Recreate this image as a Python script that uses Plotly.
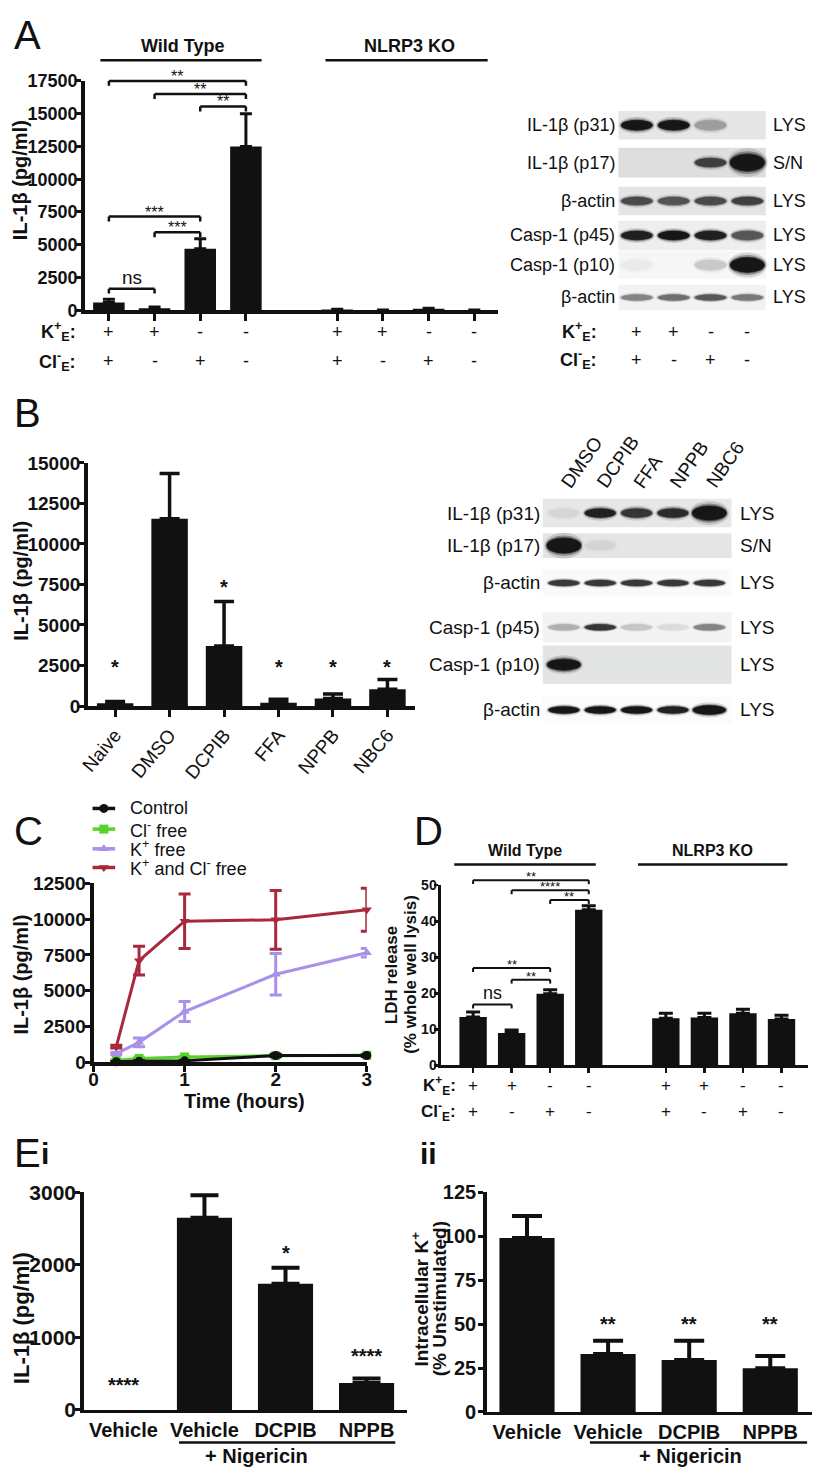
import plotly.graph_objects as go

W, H = 819, 1481
FONT = "Liberation Sans, Arial, Helvetica, sans-serif"
INK = "#111111"

# ======================= DATA =======================
# ---- Panel A : IL-1β release (pg/ml) ----
A_GROUPS = ["Wild Type", "NLRP3 KO"]
A_K_SIGN = ["+", "+", "-", "-"]
A_CL_SIGN = ["+", "-", "+", "-"]
A_WT = [600, 150, 4700, 12500]
A_WT_ERR = [250, 100, 750, 2500]
A_KO = [60, 20, 110, 20]
A_KO_ERR = [20, 10, 40, 10]
A_YTICKS = [0, 2500, 5000, 7500, 10000, 12500, 15000, 17500]
A_SIG_PAIRS = [(0, 3), (1, 3), (2, 3), (0, 2), (1, 2), (0, 1)]
A_SIG_LEVEL = [17500, 16500, 15550, 7150, 5950, 1650]
A_SIG_TEXT = ["**", "**", "**", "***", "***", "ns"]

# ---- Panel A : western blot ----
A_BLOT_ROWS = ["IL-1β (p31)", "IL-1β (p17)", "β-actin", "Casp-1 (p45)", "Casp-1 (p10)", "β-actin"]
A_BLOT_FRACTION = ["LYS", "S/N", "LYS", "LYS", "LYS", "LYS"]
A_BLOT_SIGNAL = [
    [1.0, 1.0, 0.35, 0.0],
    [0.0, 0.0, 0.8, 1.9],
    [0.75, 0.7, 0.75, 0.8],
    [0.95, 1.0, 0.95, 0.7],
    [0.05, 0.0, 0.2, 1.5],
    [0.5, 0.6, 0.7, 0.55],
]

# ---- Panel B : inhibitors ----
B_CATS = ["Naive", "DMSO", "DCPIB", "FFA", "NPPB", "NBC6"]
B_VALS = [180, 11550, 3700, 200, 470, 1030]
B_ERR = [100, 2800, 2750, 220, 280, 610]
B_SIG = ["*", "", "*", "*", "*", "*"]
B_SIG_LEVEL = [2400, 0, 7350, 2400, 2400, 2400]
B_YTICKS = [0, 2500, 5000, 7500, 10000, 12500, 15000]

B_BLOT_LANES = ["DMSO", "DCPIB", "FFA", "NPPB", "NBC6"]
B_BLOT_ROWS = ["IL-1β (p31)", "IL-1β (p17)", "β-actin", "Casp-1 (p45)", "Casp-1 (p10)", "β-actin"]
B_BLOT_FRACTION = ["LYS", "S/N", "LYS", "LYS", "LYS", "LYS"]
B_BLOT_SIGNAL = [
    [0.08, 0.95, 0.85, 0.9, 1.6],
    [1.7, 0.08, 0.0, 0.0, 0.0],
    [0.85, 0.85, 0.85, 0.85, 0.85],
    [0.3, 0.85, 0.2, 0.1, 0.5],
    [1.4, 0.0, 0.0, 0.0, 0.0],
    [1.0, 1.0, 1.0, 0.95, 1.3],
]

# ---- Panel C : time course ----
C_TIME = [0.25, 0.5, 1, 2, 3]
C_NAMES = ["Control", "Cl<sup>-</sup> free", "K<sup>+</sup> free", "K<sup>+</sup> and Cl<sup>-</sup> free"]
C_CONTROL = [50, 90, 110, 480, 480]
C_CONTROL_ERR = [20, 30, 30, 90, 60]
C_CLFREE = [150, 280, 380, 470, 500]
C_CLFREE_ERR = [20, 40, 40, 40, 40]
C_KFREE = [620, 1400, 3550, 6150, 7650]
C_KFREE_ERR = [80, 300, 700, 1450, 300]
C_KCLFREE = [1100, 7100, 9850, 9950, 10650]
C_KCLFREE_ERR = [100, 1000, 1900, 2050, 1500]
C_XTICKS = [0, 1, 2, 3]
C_YTICKS = [0, 2500, 5000, 7500, 10000, 12500]

# ---- Panel D : LDH release ----
D_WT = [13.4, 9.0, 19.9, 43.2]
D_WT_ERR = [1.4, 0.8, 1.1, 1.1]
D_KO = [13.1, 13.3, 14.5, 12.9]
D_KO_ERR = [1.4, 1.2, 1.1, 1.0]
D_YTICKS = [0, 10, 20, 30, 40, 50]
D_SIG_PAIRS = [(0, 3), (1, 3), (2, 3), (0, 2), (1, 2), (0, 1)]
D_SIG_LEVEL = [51.4, 48.6, 45.9, 27.0, 23.8, 16.9]
D_SIG_TEXT = ["**", "****", "**", "**", "**", "ns"]

# ---- Panel E ----
E_CATS = ["Vehicle", "Vehicle", "DCPIB", "NPPB"]
EI_VALS = [0, 2650, 1740, 370]
EI_ERR = [0, 310, 220, 65]
EI_SIG = ["****", "", "*", "****"]
EI_SIG_LEVEL = [340, 0, 2170, 750]
EI_YTICKS = [0, 1000, 2000, 3000]
EII_VALS = [99, 33, 29.5, 24.8]
EII_ERR = [12.5, 7.5, 11, 7]
EII_SIG = ["", "**", "**", "**"]
EII_SIG_LEVEL = [0, 50, 50, 50]
EII_YTICKS = [0, 25, 50, 75, 100, 125]

# ======================= HELPERS =======================
fig = go.Figure()
layout = {}
shapes, anns = [], []


def add_text(x, y, s, size, bold=False, xref="paper", yref="paper", xa="center", ya="middle",
             angle=0, yshift=0, xshift=0, pad=1):
    """x / y are figure pixels when the ref is 'paper', data values otherwise."""
    if xref == "paper":
        x = x / W
    if yref == "paper":
        y = 1 - y / H
    anns.append(dict(x=x, y=y, xref=xref, yref=yref, text=s, showarrow=False, xanchor=xa, yanchor=ya,
                     textangle=angle, yshift=yshift, xshift=xshift, borderpad=pad,
                     font=dict(family=FONT, size=size, color=INK, weight="bold" if bold else "normal")))


def add_hline(x0, x1, y, w=2.5):
    shapes.append(dict(type="line", xref="paper", yref="paper", x0=x0 / W, x1=x1 / W,
                       y0=1 - y / H, y1=1 - y / H, line=dict(color=INK, width=w)))


def make_axes(n, xpx, ypx, xr, yr, xkw=None, ykw=None):
    s = "" if n == 1 else str(n)
    base = dict(showgrid=False, zeroline=False, fixedrange=True)
    xa = dict(base, domain=[xpx[0] / W, xpx[1] / W], range=xr, anchor="y" + s)
    ya = dict(base, domain=[1 - ypx[0] / H, 1 - ypx[1] / H], range=yr, anchor="x" + s)
    xa.update(xkw or {})
    ya.update(ykw or {})
    layout["xaxis" + s] = xa
    layout["yaxis" + s] = ya
    return "x" + s, "y" + s


def line_axis(lw, ticklen, tickw, tickvals, fs=18, labels=True, ticks="outside", ticktext=None, angle=None,
              bold=True, standoff=0):
    d = dict(showline=True, linecolor=INK, linewidth=lw, ticks=ticks, ticklen=ticklen, tickwidth=tickw,
             tickcolor=INK, tickmode="array", tickvals=tickvals, showticklabels=labels,
             ticktext=ticktext if ticktext is not None else [str(v) for v in tickvals],
             ticklabelstandoff=standoff,
             tickfont=dict(family=FONT, size=fs, color=INK, weight="bold" if bold else "normal"))
    if angle is not None:
        d["tickangle"] = angle
    return d


def bars(xr, yr, xs, vals, errs, width, cap, thick):
    # a zero-height bar (below detection) gets neither a bar nor an error cap
    ys = [v if v > 0 else None for v in vals]
    fig.add_trace(go.Bar(x=xs, y=ys, xaxis=xr, yaxis=yr, width=width,
                         marker=dict(color=INK, line=dict(width=0)),
                         error_y=dict(type="data", symmetric=False, array=errs, arrayminus=[0] * len(errs),
                                      color=INK, thickness=thick, width=cap),
                         showlegend=False, hoverinfo="skip"))


def brackets(xr, yr, pairs, levels, texts, ymax, hpx, star_fs, ns_fs, lw=2.5, drop=5):
    yd_ref = yr + " domain"
    d = drop / hpx
    for (i, j), lev, t in zip(pairs, levels, texts):
        yd = lev / ymax
        shapes.append(dict(type="line", xref=xr, yref=yd_ref, x0=i, x1=j, y0=yd, y1=yd, line=dict(color=INK, width=lw)))
        for e in (i, j):
            shapes.append(dict(type="line", xref=xr, yref=yd_ref, x0=e, x1=e, y0=yd, y1=yd - d, line=dict(color=INK, width=lw)))
        if t == "ns":
            add_text((i + j) / 2, yd, t, ns_fs, xref=xr, yref=yd_ref, ya="bottom", yshift=-1)
        else:
            add_text((i + j) / 2, yd, t, star_fs, xref=xr, yref=yd_ref, ya="bottom", yshift=-6)


def hex_rgb(h):
    return tuple(int(h[k:k + 2], 16) for k in (1, 3, 5))


def mix(bg, t):
    r, g, b = hex_rgb(bg)
    d = 22
    return "rgb(%d,%d,%d)" % (r + (d - r) * t, g + (d - g) * t, b + (d - b) * t)


def draw_blot(xr, yr, nl, signal, row_y, row_h, strip_h, strip_bg, sx0, sx1, band_w=0.84):
    for r, vals in enumerate(signal):
        yc = row_y[r]
        bg = strip_bg[r]
        shapes.append(dict(type="rect", xref=xr, yref=yr, x0=sx0, x1=sx1, y0=yc - strip_h[r] / 2,
                           y1=yc + strip_h[r] / 2, fillcolor=bg, line=dict(width=0)))
        for lane, v in enumerate(vals):
            if v <= 0:
                continue
            t = min(v, 1.0)
            h = row_h[r] * max(1.0, v)
            w = band_w * min(1.12, max(1.0, v ** 0.25))
            for sw, sh, k in ((1.16, 1.7, 0.15), (1.08, 1.35, 0.45), (1.03, 1.12, 0.8), (1.0, 1.0, 1.0)):
                shapes.append(dict(type="circle", xref=xr, yref=yr, x0=lane - w * sw / 2, x1=lane + w * sw / 2,
                                   y0=yc - h * sh / 2, y1=yc + h * sh / 2, fillcolor=mix(bg, k * t),
                                   line=dict(width=0)))


# ======================= PANEL A (bars) =======================
xa, ya = make_axes(1, (77, 498), (303, 70), [-0.53, 8.53], [0, 17500],
                   line_axis(3.5, 7, 3, [0, 1, 2, 3, 5, 6, 7, 8], labels=False),
                   line_axis(3.5, 5, 3, A_YTICKS, fs=18, standoff=-5))
wt_x = list(range(len(A_WT)))
ko_x = [i + len(A_WT) + 1 for i in range(len(A_KO))]
bars(xa, ya, wt_x, A_WT, A_WT_ERR, 0.69, 6, 3)
bars(xa, ya, ko_x, A_KO, A_KO_ERR, 0.69, 6, 3)
brackets(xa, ya, A_SIG_PAIRS, A_SIG_LEVEL, A_SIG_TEXT, 17500, 233, 16, 19)
add_text(3, 23, "A", 40, xa="left")
add_text(12, 171, "IL-1β (pg/ml)", 20, bold=True, angle=-90)
add_text(177, 35, A_GROUPS[0], 18, bold=True)
add_hline(93, 257, 49)
add_text(407, 35, A_GROUPS[1], 18, bold=True)
add_hline(322, 487, 49)
add_text(70, 325, "K<sup>+</sup><sub>E</sub>:", 18, bold=True, xa="right")
add_text(70, 355, "Cl<sup>-</sup><sub>E</sub>:", 18, bold=True, xa="right")
for xs in (wt_x, ko_x):
    for k, (ks, cs) in enumerate(zip(A_K_SIGN, A_CL_SIGN)):
        add_text(xs[k], 325, ks, 18, xref=xa)
        add_text(xs[k], 355, cs, 18, xref=xa)

# ======================= PANEL A (blot) =======================
# lanes 37.5 px apart, first lane at x=638.75 px; axis widened so labels stay in range
bx, by = make_axes(2, (500, 819), (305, 95), [-3.7, 4.807], [210, 0],
                   dict(visible=False), dict(visible=False))
A_ROW_Y = [20, 58, 97, 132, 162, 195]
draw_blot(bx, by, 4, A_BLOT_SIGNAL, A_ROW_Y, [10, 9, 8, 9, 10, 6], [29, 30, 29, 30, 28, 26],
          ["#e6e6e6", "#dedede", "#e4e4e4", "#eeeeee", "#f6f6f6", "#f2f2f2"], -0.5, 3.5)
for r, (nm, fr) in enumerate(zip(A_BLOT_ROWS, A_BLOT_FRACTION)):
    add_text(-0.55, A_ROW_Y[r], nm, 18, xref=bx, yref=by, xa="right")
    add_text(3.63, A_ROW_Y[r], fr, 18, xref=bx, yref=by, xa="left")
add_text(-1.03, 325, "K<sup>+</sup><sub>E</sub>:", 18, bold=True, xref=bx, xa="right")
add_text(-1.03, 353, "Cl<sup>-</sup><sub>E</sub>:", 18, bold=True, xref=bx, xa="right")
for k, (ks, cs) in enumerate(zip(A_K_SIGN, A_CL_SIGN)):
    add_text(k, 325, ks, 18, xref=bx)
    add_text(k, 353, cs, 18, xref=bx)

# ======================= PANEL B (bars) =======================
xb, yb = make_axes(3, (80, 413), (705, 458), [-0.505, 5.505], [0, 15000],
                   line_axis(3.5, 7, 3, list(range(len(B_CATS))), fs=19, ticktext=B_CATS, angle=-50, bold=False),
                   line_axis(3.5, 5, 3, B_YTICKS, fs=19, standoff=-5))
bars(xb, yb, list(range(len(B_CATS))), B_VALS, B_ERR, 0.67, 10, 3.5)
for k, (s, lev) in enumerate(zip(B_SIG, B_SIG_LEVEL)):
    if s:
        add_text(k, lev, s, 20, bold=True, xref=xb, yref=yb)
add_text(3, 407, "B", 40, xa="left")
add_text(12, 578, "IL-1β (pg/ml)", 20, bold=True, angle=-90)

# ======================= PANEL B (blot) =======================
# lanes 37 px apart, first lane at x=564.5 px; axis widened so labels stay in range
bbx, bby = make_axes(4, (300, 819), (725, 488), [-7.149, 6.878], [237, 0],
                     dict(visible=False), dict(visible=False))
B_ROW_Y = [21, 54, 92, 137, 175, 221]
draw_blot(bbx, bby, 5, B_BLOT_SIGNAL, B_ROW_Y, [9, 9, 6, 6, 8, 7], [29, 25, 28, 31, 39, 28],
          ["#e6e8e8", "#e4e6e6", "#fafafa", "#f3f3f3", "#e3e5e5", "#fbfbfb"], -0.58, 4.61)
for r, (nm, fr) in enumerate(zip(B_BLOT_ROWS, B_BLOT_FRACTION)):
    add_text(-0.61, B_ROW_Y[r], nm, 19, xref=bbx, yref=bby, xa="right")
    add_text(4.8, B_ROW_Y[r], fr, 19, xref=bbx, yref=bby, xa="left")
for k, lane in enumerate(B_BLOT_LANES):
    add_text(k - 0.28, 490, lane, 19, xref=bbx, xa="left", ya="bottom", angle=-55)

# ======================= PANEL C (time course) =======================
xc, yc = make_axes(5, (86, 364), (1067, 885), [0, 3], [0, 12500],
                   line_axis(4, 6, 3, C_XTICKS, fs=19, standoff=-9),
                   line_axis(4, 5, 3, C_YTICKS, fs=19, standoff=-5))
C_STYLE = [("#111111", "circle"), ("#55d42a", "square"), ("#a990e8", "triangle-up"), ("#a8283c", "triangle-down")]
c_series = [(C_CONTROL, C_CONTROL_ERR), (C_CLFREE, C_CLFREE_ERR), (C_KFREE, C_KFREE_ERR), (C_KCLFREE, C_KCLFREE_ERR)]
for idx in [1, 2, 3, 0]:
    vals, errs = c_series[idx]
    col, sym = C_STYLE[idx]
    fig.add_trace(go.Scatter(x=C_TIME, y=vals, xaxis=xc, yaxis=yc, mode="lines+markers", name=C_NAMES[idx],
                             line=dict(color=col, width=3), marker=dict(symbol=sym, size=9, color=col),
                             error_y=dict(type="data", array=errs, color=col, thickness=3, width=6),
                             cliponaxis=False, showlegend=False, hoverinfo="skip"))
add_text(3, 832, "C", 40, xa="left")
add_text(12, 978, "IL-1β (pg/ml)", 20, bold=True, angle=-90)
add_text(240, 1106, "Time (hours)", 20, bold=True)

# manual legend on a full-figure overlay axis
ox, oy = make_axes(9, (0, W), (H, 0), [0, W], [H, 0], dict(visible=False), dict(visible=False))
LEG_Y = [809, 830, 850, 869]
for idx, ly in enumerate(LEG_Y):
    col, sym = C_STYLE[idx]
    fig.add_trace(go.Scatter(x=[85, 108], y=[ly, ly], xaxis=ox, yaxis=oy, mode="lines",
                             line=dict(color=col, width=3.5), showlegend=False, hoverinfo="skip"))
    fig.add_trace(go.Scatter(x=[96.5], y=[ly], xaxis=ox, yaxis=oy, mode="markers",
                             marker=dict(symbol=sym, size=9, color=col), showlegend=False, hoverinfo="skip",
                             cliponaxis=False))
    add_text(122, ly, C_NAMES[idx], 18, xa="left", pad=0)

# ======================= PANEL D (LDH) =======================
xd, yd = make_axes(6, (440, 813), (1070, 887), [-0.82, 8.69], [0, 50],
                   line_axis(3, 5, 2.5, [0, 1, 2, 3, 5, 6, 7, 8], labels=False),
                   line_axis(3, 4, 2.5, D_YTICKS, fs=14, standoff=-5))
dwt_x = list(range(len(D_WT)))
dko_x = [i + len(D_WT) + 1 for i in range(len(D_KO))]
bars(xd, yd, dwt_x, D_WT, D_WT_ERR, 0.71, 7, 3)
bars(xd, yd, dko_x, D_KO, D_KO_ERR, 0.71, 7, 3)
brackets(xd, yd, D_SIG_PAIRS, D_SIG_LEVEL, D_SIG_TEXT, 50, 183, 13, 18, lw=2, drop=4)
add_text(410, 832, "D", 40, xa="left")
add_text(389, 978, "LDH release", 17, bold=True, angle=-90)
add_text(409, 978, "(% whole well lysis)", 17, bold=True, angle=-90)
add_text(525, 852, A_GROUPS[0], 16, bold=True)
add_hline(453, 597, 866)
add_text(716, 852, A_GROUPS[1], 16, bold=True)
add_hline(640, 792, 866)
add_text(457, 1090, "K<sup>+</sup><sub>E</sub>:", 17, bold=True, xa="right")
add_text(457, 1117, "Cl<sup>-</sup><sub>E</sub>:", 17, bold=True, xa="right")
for xs in (dwt_x, dko_x):
    for k, (ks, cs) in enumerate(zip(A_K_SIGN, A_CL_SIGN)):
        add_text(xs[k], 1090, ks, 17, xref=xd)
        add_text(xs[k], 1117, cs, 17, xref=xd)

# ======================= PANEL E i =======================
xe, ye = make_axes(7, (76, 405), (1420, 1199), [-0.49, 3.5], [0, 3000],
                   line_axis(3.5, 0, 0, list(range(len(E_CATS))), fs=20, ticktext=E_CATS, ticks=""),
                   line_axis(3.5, 5, 3, EI_YTICKS, fs=21, standoff=-5))
bars(xe, ye, list(range(len(E_CATS))), EI_VALS, EI_ERR, 0.68, 14, 4)
for k, (s, lev) in enumerate(zip(EI_SIG, EI_SIG_LEVEL)):
    if s:
        add_text(k, lev, s, 20, bold=True, xref=xe, yref=ye)
add_text(3, 1159, "E", 40, xa="left")
add_text(31, 1159, "i", 30, bold=True, xa="left")
add_text(13, 1327, "IL-1β (pg/ml)", 22, bold=True, angle=-90)
add_hline(173, 393, 1453)
add_text(252, 1467, "+ Nigericin", 20, bold=True)

# ======================= PANEL E ii =======================
xf, yf = make_axes(8, (486, 817), (1422, 1199), [-0.497, 3.515], [0, 125],
                   line_axis(3.5, 0, 0, list(range(len(E_CATS))), fs=20, ticktext=E_CATS, ticks=""),
                   line_axis(3.5, 5, 3, EII_YTICKS, fs=20, standoff=-2))
bars(xf, yf, list(range(len(E_CATS))), EII_VALS, EII_ERR, 0.68, 15, 4)
for k, (s, lev) in enumerate(zip(EII_SIG, EII_SIG_LEVEL)):
    if s:
        add_text(k, lev, s, 20, bold=True, xref=xf, yref=yf)
add_text(416, 1159, "ii", 30, bold=True, xa="left")
add_text(418, 1307, "Intracellular K<sup>+</sup>", 19, bold=True, angle=-90)
add_text(438, 1307, "(% Unstimulated)", 19, bold=True, angle=-90)
add_hline(591, 812, 1453)
add_text(693, 1467, "+ Nigericin", 20, bold=True)

fig.update_layout(width=W, height=H, margin=dict(l=0, r=0, t=0, b=0), autosize=False,
                  paper_bgcolor="white", plot_bgcolor="rgba(0,0,0,0)", showlegend=False, barmode="overlay",
                  shapes=shapes, annotations=anns, **layout)
fig.write_html("out.html", config={"displayModeBar": False, "staticPlot": True},
               post_script="document.body.style.margin='0';document.body.style.padding='0';"
                           "document.documentElement.style.overflow='hidden';")
